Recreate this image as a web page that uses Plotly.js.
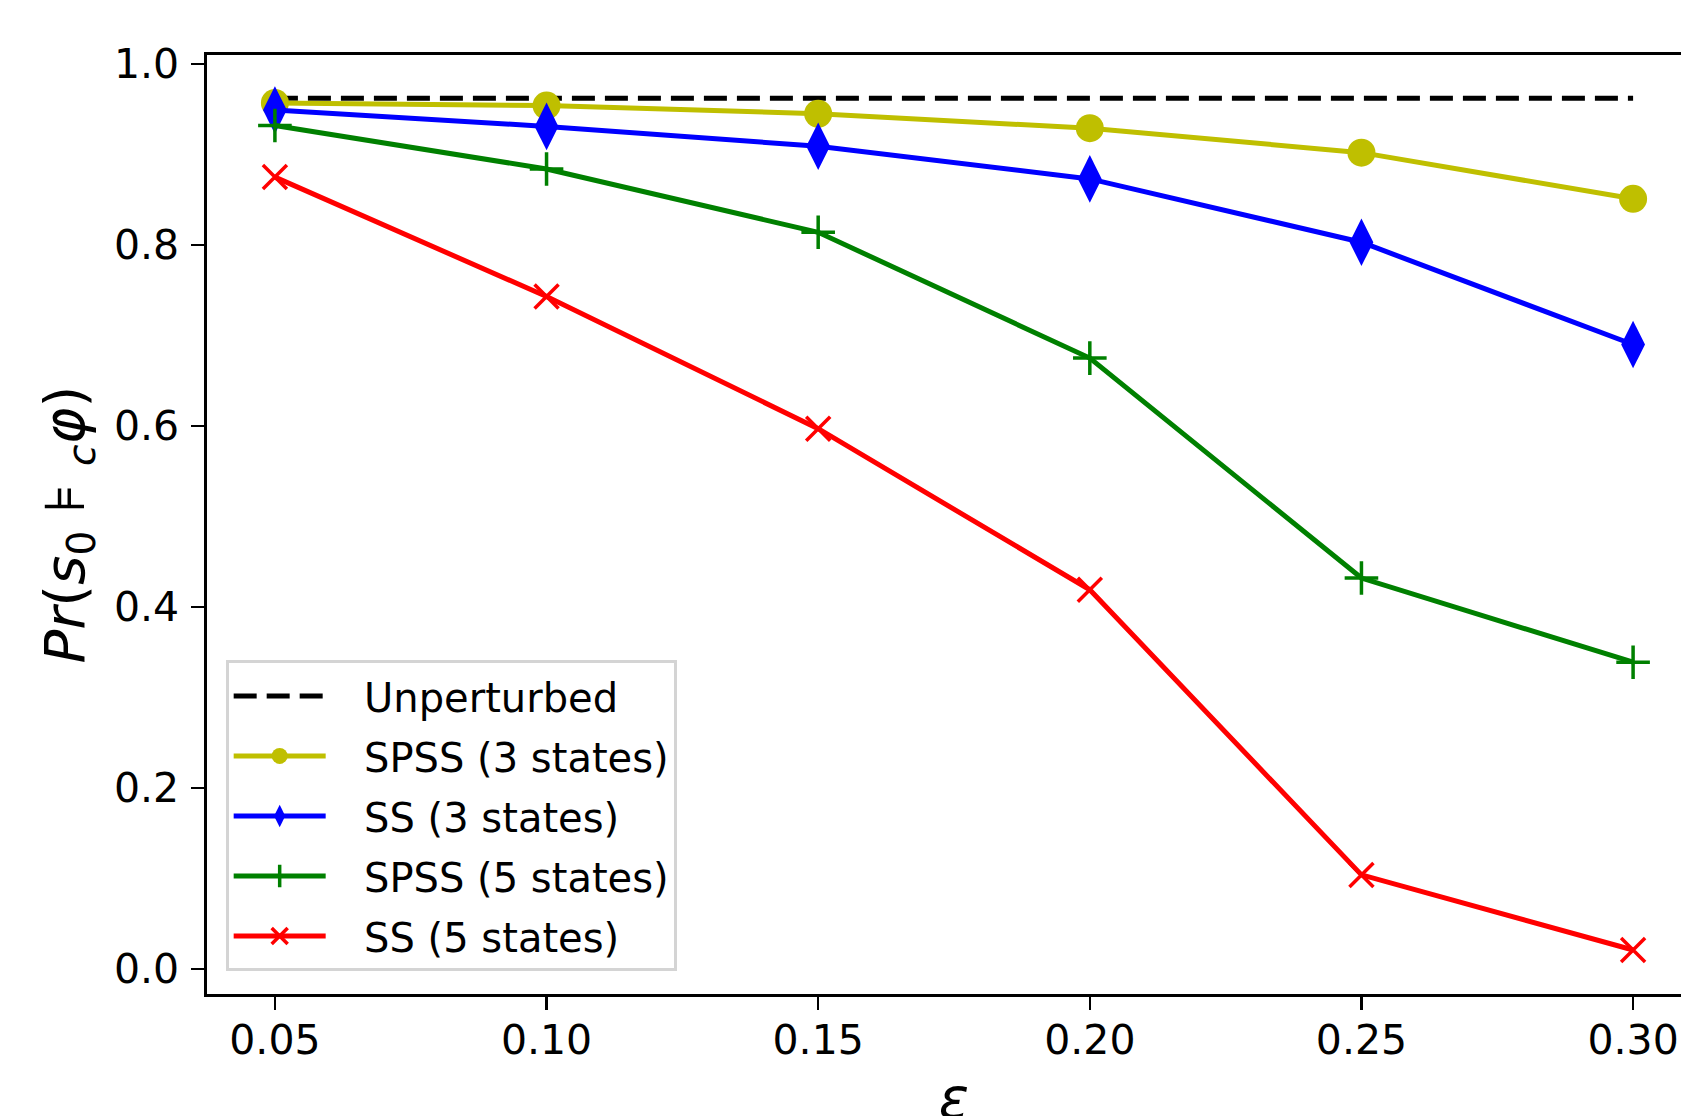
<!DOCTYPE html>
<html>
<head>
<meta charset="utf-8">
<script src="https://cdn.plot.ly/plotly-3.0.1.min.js"></script>
<style>
  html, body { margin: 0; padding: 0; overflow: hidden; background: #fff; }
  #chart { width: 1720px; height: 1160px; }
</style>
</head>
<body>
<div id="chart"></div>
<script>
// ---- data ----
const epsilon = [0.05, 0.10, 0.15, 0.20, 0.25, 0.30];
const unperturbed = [0.962, 0.962, 0.962, 0.962, 0.962, 0.962];
const spss3 = [0.957, 0.954, 0.945, 0.929, 0.902, 0.851];
const ss3 = [0.949, 0.931, 0.909, 0.873, 0.803, 0.690];
const spss5 = [0.932, 0.884, 0.814, 0.675, 0.432, 0.339];
const ss5 = [0.875, 0.743, 0.597, 0.419, 0.104, 0.021];
const seriesNames = ["Unperturbed", "SPSS (3 states)", "SS (3 states)", "SPSS (5 states)", "SS (5 states)"];

const FONT = "DejaVu Sans, Liberation Sans, sans-serif";
const GAP = "\u00a0\u00a0\u2009";

const traces = [
  {
    x: epsilon, y: unperturbed, name: GAP + seriesNames[0], mode: "lines", legendgroup: "a",
    line: { color: "#000000", width: 5, dash: "23px,10px" }
  },
  {
    x: epsilon, y: spss3, name: GAP + seriesNames[1], mode: "lines+markers", legendgroup: "b",
    line: { color: "#bfbf00", width: 5 },
    marker: { symbol: "circle", size: 28, color: "#bfbf00" }
  },
  {
    x: epsilon, y: ss3, name: GAP + seriesNames[2], mode: "lines+markers", legendgroup: "c",
    line: { color: "#0000ff", width: 5 },
    marker: { symbol: "diamond-tall", size: 34, color: "#0000ff" }
  },
  {
    x: epsilon, y: spss5, name: GAP + seriesNames[3], mode: "lines+markers", legendgroup: "d",
    line: { color: "#008000", width: 5 },
    marker: { symbol: "cross-thin", size: 24, color: "#008000", line: { color: "#008000", width: 3.5 } }
  },
  {
    x: epsilon, y: ss5, name: GAP + seriesNames[4], mode: "lines+markers", legendgroup: "e",
    line: { color: "#ff0000", width: 5 },
    marker: { symbol: "x-thin", size: 24, color: "#ff0000", line: { color: "#ff0000", width: 3.5 } }
  }
];

const layout = {
  width: 1720,
  height: 1160,
  margin: { l: 207, r: 19, t: 55, b: 166, pad: 0 },
  paper_bgcolor: "#ffffff",
  plot_bgcolor: "#ffffff",
  font: { family: FONT, size: 40, color: "#000000" },
  showlegend: true,
  legend: {
    x: 0.0125, y: 0.024, xanchor: "left", yanchor: "bottom",
    bgcolor: "rgba(255,255,255,0.8)",
    bordercolor: "#d4d4d4", borderwidth: 3,
    font: { family: FONT, size: 40, color: "#000000" },
    itemwidth: 92,
    traceorder: "grouped",
    tracegroupgap: 5
  },
  xaxis: {
    range: [0.0375, 0.3125],
    tick0: 0.05, dtick: 0.05, tickformat: ".2f",
    showgrid: false, zeroline: false,
    showline: true, linecolor: "#000000", linewidth: 2.7, mirror: true,
    ticks: "outside", ticklen: 13, tickwidth: 2.5, tickcolor: "#000000",
    ticklabelstandoff: -5,
    tickfont: { family: FONT, size: 41, color: "#000000" },
    title: { text: "<i>ε</i>", font: { family: FONT, size: 56, color: "#000000" }, standoff: 16 }
  },
  yaxis: {
    range: [-0.0276, 1.0099],
    tick0: 0, dtick: 0.2, tickformat: ".1f",
    showgrid: false, zeroline: false,
    showline: true, linecolor: "#000000", linewidth: 2.7, mirror: true,
    ticks: "outside", ticklen: 13, tickwidth: 2.5, tickcolor: "#000000",
    ticklabelstandoff: 4,
    tickfont: { family: FONT, size: 41, color: "#000000" },
    title: { text: "<i>Pr</i>(<i>s</i><sub>0</sub> ⊧ <sub><i>c</i></sub><i>φ</i>)", font: { family: FONT, size: 56, color: "#000000" }, standoff: 12 }
  }
};

Plotly.newPlot("chart", traces, layout, { displayModeBar: false, staticPlot: true });
</script>
</body>
</html>
